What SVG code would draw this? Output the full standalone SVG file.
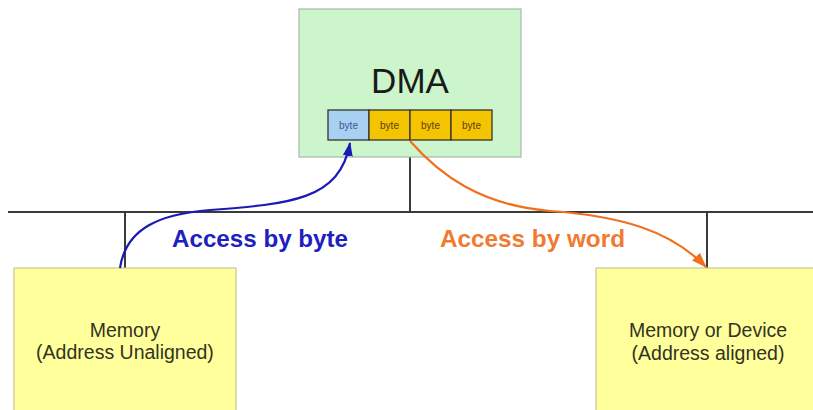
<svg xmlns="http://www.w3.org/2000/svg" width="813" height="410" viewBox="0 0 813 410">
<defs>
<style>
.bus{stroke:#3a3a3a;stroke-width:2;fill:none}
.mem{fill:#ffff9c;stroke:#c8c890;stroke-width:1.2}
.memt{font-family:"Liberation Sans",Arial,sans-serif;font-size:19.5px;fill:#333322;text-anchor:middle}
.cell{stroke:#333;stroke-width:1.3}
.cellt{font-family:"Liberation Sans",Arial,sans-serif;font-size:10px;text-anchor:middle}
.lbl{font-family:"Liberation Sans",Arial,sans-serif;font-weight:bold;font-size:24px}
</style>
<marker id="ab" viewBox="0 0 14 10" refX="13" refY="5" markerWidth="14" markerHeight="10" markerUnits="userSpaceOnUse" orient="auto"><path d="M0,0 L14,5 L0,10 Z" fill="#1a1ab4"/></marker>
<marker id="ao" viewBox="0 0 14 10" refX="13" refY="5" markerWidth="16" markerHeight="11" markerUnits="userSpaceOnUse" orient="auto"><path d="M0,0 L14,5 L0,10 Z" fill="#f07020"/></marker>
</defs>
<rect width="813" height="410" fill="#ffffff"/>
<g id="bus">
<line class="bus" x1="8" y1="212" x2="813" y2="212"/>
<line class="bus" x1="410" y1="157" x2="410" y2="212"/>
<line class="bus" x1="125" y1="212" x2="125" y2="268"/>
<line class="bus" x1="707" y1="212" x2="707" y2="268"/>
</g>
<g id="dma">
<rect x="299" y="9" width="222" height="148" fill="#ccf5cc" stroke="#a8b8a8" stroke-width="1.2"/>
<text x="410" y="93" font-family="Liberation Sans,Arial,sans-serif" font-size="35" fill="#1a1a1a" text-anchor="middle">DMA</text>
<rect class="cell" x="328" y="110" width="41" height="30" fill="#a8d0f0"/>
<rect class="cell" x="369" y="110" width="41" height="30" fill="#f5c400"/>
<rect class="cell" x="410" y="110" width="41" height="30" fill="#f5c400"/>
<rect class="cell" x="451" y="110" width="41" height="30" fill="#f5c400"/>
<text class="cellt" x="348.5" y="129" fill="#405890">byte</text>
<text class="cellt" x="389.5" y="129" fill="#604010">byte</text>
<text class="cellt" x="430.5" y="129" fill="#604010">byte</text>
<text class="cellt" x="471.5" y="129" fill="#604010">byte</text>
</g>
<g id="mem-left">
<rect class="mem" x="14" y="268" width="222" height="150"/>
<text class="memt" x="125" y="337">Memory</text>
<text class="memt" x="125" y="359">(Address Unaligned)</text>
</g>
<g id="mem-right">
<rect class="mem" x="596" y="268" width="230" height="150"/>
<text class="memt" x="708" y="337">Memory or Device</text>
<text class="memt" x="708" y="360">(Address aligned)</text>
</g>
<g id="connectors">
<path d="M120,268 C126,228 160,214 210,210 C290,204 340,200 350,143" fill="none" stroke="#1a1ab4" stroke-width="2.2" marker-end="url(#ab)"/>
<path d="M410,141 C440,175 480,205 550,211 C620,216 670,230 706,267" fill="none" stroke="#f07020" stroke-width="2.2" marker-end="url(#ao)"/>
<text class="lbl" x="172" y="247" fill="#2020c0" textLength="176" lengthAdjust="spacingAndGlyphs">Access by byte</text>
<text class="lbl" x="440" y="247" fill="#f07a30" textLength="185" lengthAdjust="spacingAndGlyphs">Access by word</text>
</g>
</svg>
